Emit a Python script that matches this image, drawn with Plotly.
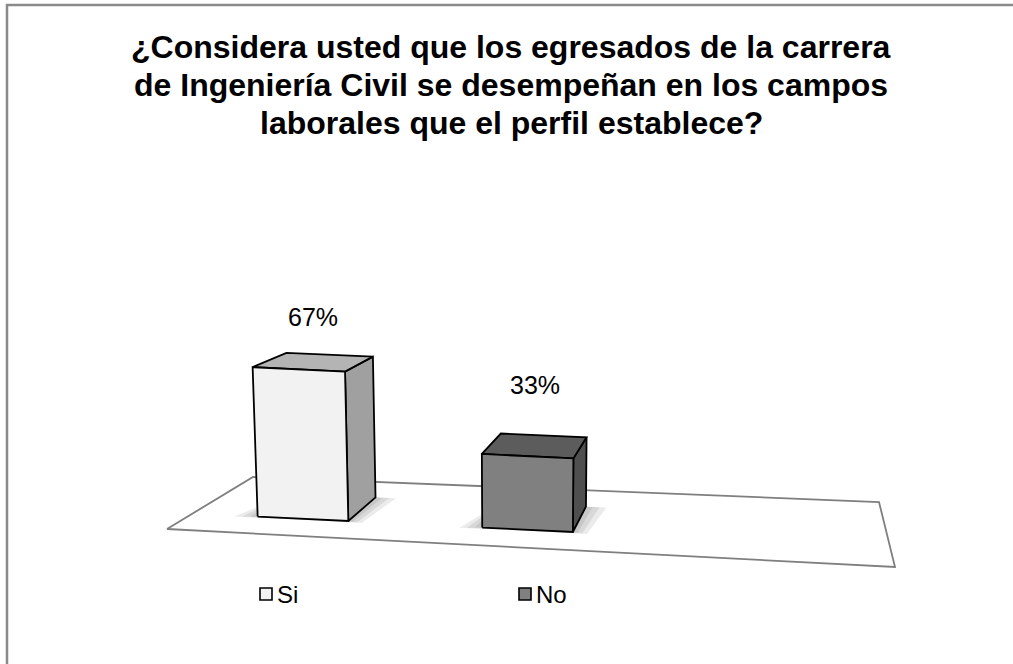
import plotly.graph_objects as go

# survey answers
categories = ["Si", "No"]
values = [67, 33]
labels = ["67%", "33%"]
title_lines = [
    "¿Considera usted que los egresados de la carrera",
    "de Ingeniería Civil se desempeñan en los campos",
    "laborales que el perfil establece?",
]

front_colors = ["#f2f2f2", "#808080"]
side_colors = ["#a0a0a0", "#4f4f4f"]
top_colors = ["#b4b4b4", "#5c5c5c"]

W, H = 1013, 664
FONT = "Liberation Sans, Arial, sans-serif"

# floor corners of the fake 3d plot (pixel space): near-left, near-right, far-left, far-right
NL, NR, FL, FR = (167, 529), (895, 567), (253, 477), (879, 502)


def ground(s, t):
    x = (1 - s) * (1 - t) * NL[0] + s * (1 - t) * NR[0] + (1 - s) * t * FL[0] + s * t * FR[0]
    y = (1 - s) * (1 - t) * NL[1] + s * (1 - t) * NR[1] + (1 - s) * t * FL[1] + s * t * FR[1]
    return x, y


def proj(s, t, v):
    gx, gy = ground(s, t)
    h = v * (2.32 - 0.3 * t)
    return gx + (gx - 520) * h / 7800, gy - h


def poly(pts, fill, line="black", lw=1.8):
    xs = [p[0] for p in pts] + [pts[0][0]]
    ys = [p[1] for p in pts] + [pts[0][1]]
    return go.Scatter(x=xs, y=ys, mode="lines", fill="toself", fillcolor=fill,
                      line=dict(color=line, width=lw), hoverinfo="skip", showlegend=False)


fig = go.Figure()

# floor
fig.add_trace(poly([NL, NR, FR, FL], "white", "#7f7f7f", 1.8))

t0, t1 = 0.30, 0.73
hw = 0.065
for i, v in enumerate(values):
    c = 0.158 + 0.322 * i
    s0, s1 = c - hw, c + hw
    # soft shadow around the base
    for k in (3, 2, 1):
        e = 0.007 * k
        fig.add_trace(poly([proj(s0 - 1.5 * e, t0 - e, 0), proj(s1 + e, t0 - e, 0),
                            proj(s1 + 1.5 * e, t1, 0), proj(s0, t1, 0)],
                           "rgba(0,0,0,0.08)", "rgba(0,0,0,0)", 0))
    side = [proj(s1, t0, 0), proj(s1, t1, 0), proj(s1, t1, v), proj(s1, t0, v)]
    top = [proj(s0, t0, v), proj(s1, t0, v), proj(s1, t1, v), proj(s0, t1, v)]
    front = [proj(s0, t0, 0), proj(s1, t0, 0), proj(s1, t0, v), proj(s0, t0, v)]
    fig.add_trace(poly(side, side_colors[i]))
    fig.add_trace(poly(top, top_colors[i]))
    fig.add_trace(poly(front, front_colors[i]))
    lx, ly = proj(c, 0.5, v)
    fig.add_annotation(x=lx, y=ly - (30 + 0.47 * (100 - v)), text=labels[i], showarrow=False,
                       font=dict(family=FONT, size=25, color="black"))

# legend
leg_x = [266 + 259 * i for i in range(len(categories))]
fig.add_trace(go.Scatter(x=leg_x, y=[594] * len(categories), mode="markers",
                         marker=dict(symbol="square", size=12, color=front_colors,
                                     line=dict(color="black", width=1.6)),
                         hoverinfo="skip", showlegend=False))
for i, name in enumerate(categories):
    fig.add_annotation(x=leg_x[i] + 9, y=594, text=name, showarrow=False, xanchor="left",
                       font=dict(family=FONT, size=24, color="black"))

# title
for j, line in enumerate(title_lines):
    fig.add_annotation(x=511, y=47 + 38 * j, text="<b>" + line + "</b>", showarrow=False,
                       font=dict(family=FONT, size=32, color="black"))

# chart border
fig.add_shape(type="rect", x0=7, y0=5, x1=W + 30, y1=H + 30,
              line=dict(color="#8a8a8a", width=2.5), layer="above")

fig.update_xaxes(range=[0, W], visible=False, fixedrange=True)
fig.update_yaxes(range=[H, 0], visible=False, fixedrange=True)
fig.update_layout(width=W, height=H, autosize=False,
                  margin=dict(l=0, r=0, t=0, b=0),
                  plot_bgcolor="white", paper_bgcolor="white")

fig.write_html("out.html", config={"displayModeBar": False},
               post_script="document.body.style.margin='0';document.body.style.overflow='hidden';")
